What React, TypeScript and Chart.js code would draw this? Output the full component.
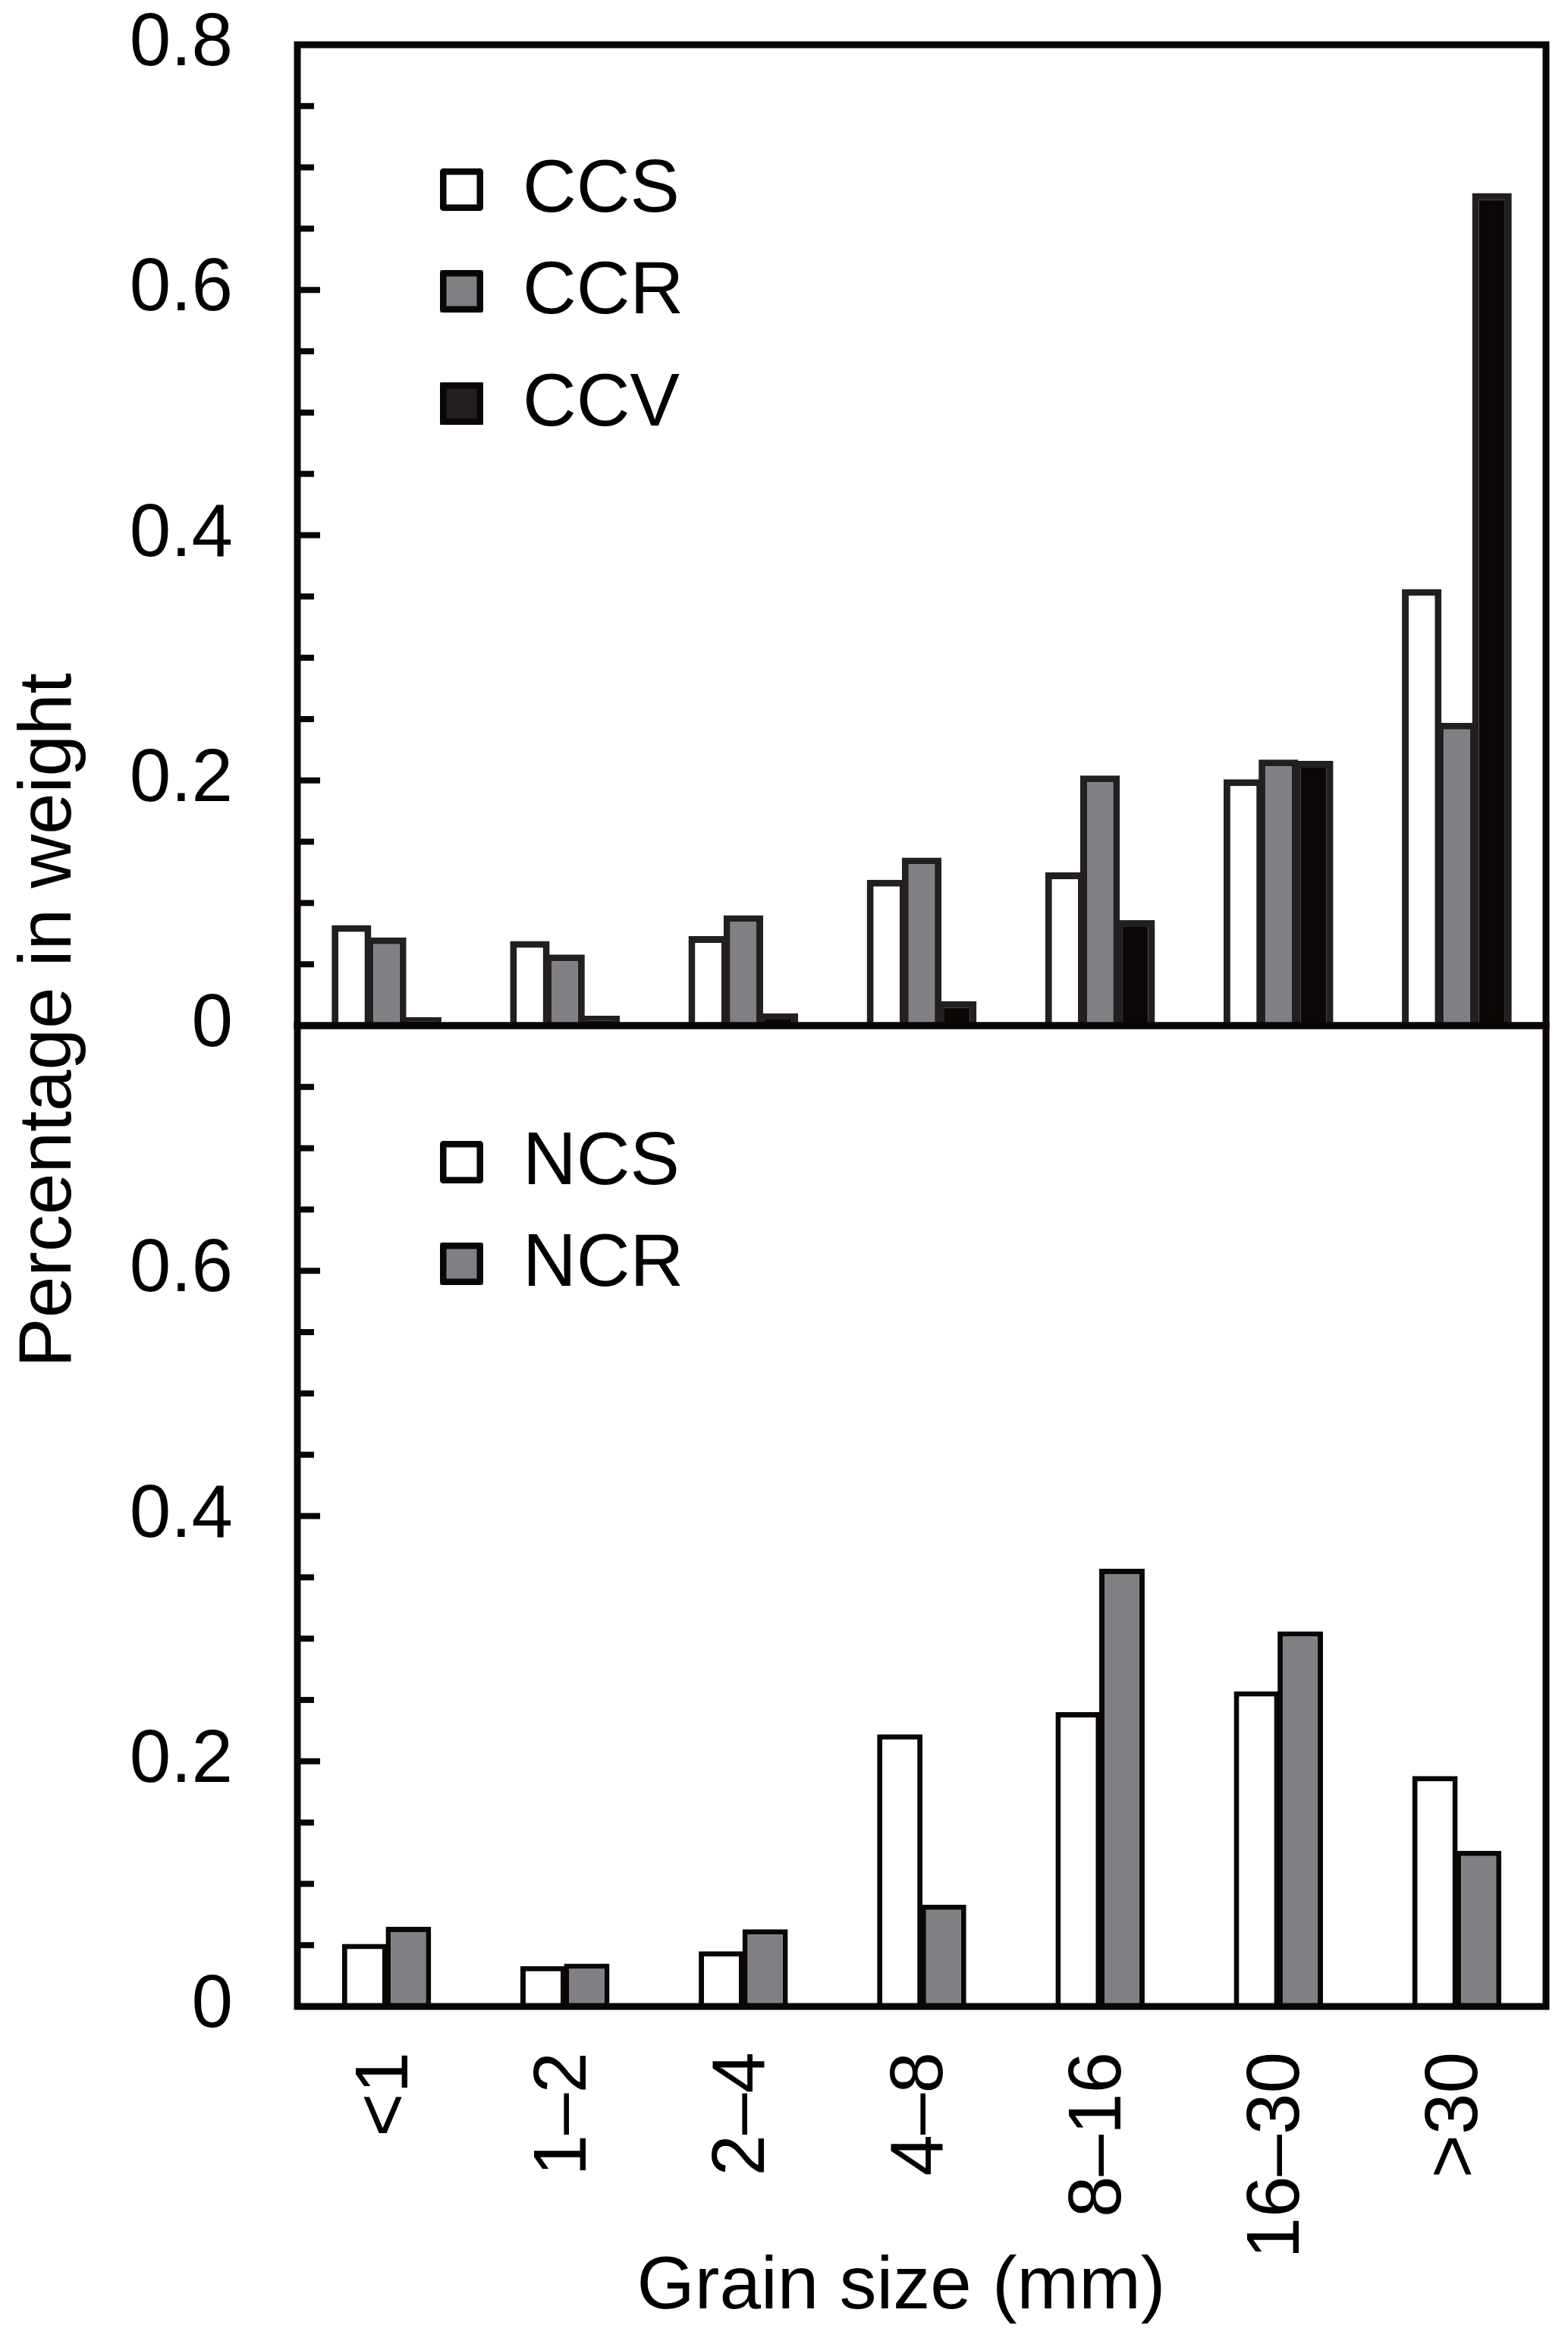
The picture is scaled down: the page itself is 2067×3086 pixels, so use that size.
import React, { useEffect, useRef } from 'react';
import { Chart, registerables } from 'chart.js';

Chart.register(...registerables);

// ---- data ----
const categories = ['<1', '1–2', '2–4', '4–8', '8–16', '16–30', '>30'];
const ccsValues = [0.082, 0.069, 0.073, 0.119, 0.125, 0.201, 0.356];
const ccrValues = [0.072, 0.058, 0.090, 0.137, 0.204, 0.217, 0.247];
const ccvValues = [0.007, 0.008, 0.010, 0.020, 0.086, 0.216, 0.679];
const ncsValues = [0.051, 0.033, 0.045, 0.222, 0.240, 0.257, 0.188];
const ncrValues = [0.065, 0.035, 0.063, 0.083, 0.357, 0.306, 0.127];
const topTickLabels = [0, 0.2, 0.4, 0.6, 0.8];
const bottomTickLabels = [0, 0.2, 0.4, 0.6];
const xTitle = 'Grain size (mm)';
const yTitle = 'Percentage in weight';

// ---- layout / style ----
const W = 2067;
const H = 3086;
const PLOT_LEFT = 392;
const PLOT_RIGHT = 2038;
const PLOT_TOP = 59;
const PLOT_MID = 1352;
const PLOT_BOTTOM = 2645;
const FONT = '"Liberation Sans", Arial, Helvetica, sans-serif';
const FS = 98;
const INK = '#0a0605';

const fmt = (v: number) => (Math.abs(v) < 1e-9 ? '0' : v.toFixed(1));
const makeCallback = (list: number[]) => (value: any) => {
  const v = Number(value);
  const hit = list.find((t) => Math.abs(t - v) < 1e-6);
  return hit === undefined ? '' : fmt(hit);
};

const yAxis = (labels: number[]) => ({
  type: 'linear',
  position: 'left',
  min: 0,
  max: 0.8,
  grid: { display: false, drawTicks: false },
  border: { display: false },
  ticks: {
    stepSize: 0.05,
    autoSkip: false,
    padding: 85,
    color: '#000',
    font: { family: FONT, size: FS, lineHeight: 1 },
    callback: makeCallback(labels),
  },
  afterFit: (s: any) => {
    s.width = PLOT_LEFT;
    s.paddingTop = 0;
    s.paddingBottom = 0;
  },
});

const panelPlugin = (rows: number[], withTitles: boolean) => ({
  id: 'panel',
  afterDatasetsDraw(chart: any) {
    const { ctx, chartArea } = chart;
    const sc = chart.scales.y;
    ctx.save();
    ctx.strokeStyle = INK;
    ctx.lineCap = 'butt';
    ctx.lineWidth = 8;
    sc.ticks.forEach((t: any) => {
      const v = t.value;
      if (v < 1e-6 || v > 0.8 - 1e-6) return;
      const major = Math.abs(v * 5 - Math.round(v * 5)) < 1e-6;
      const y = sc.getPixelForValue(v);
      ctx.beginPath();
      ctx.moveTo(chartArea.left, y);
      ctx.lineTo(chartArea.left + (major ? 30 : 22), y);
      ctx.stroke();
    });
    ctx.lineWidth = 9;
    ctx.lineJoin = 'miter';
    ctx.strokeRect(chartArea.left, chartArea.top, chartArea.right - chartArea.left, chartArea.bottom - chartArea.top);
    ctx.restore();
  },
  afterDraw(chart: any) {
    const { ctx, chartArea } = chart;
    const ds = chart.data.datasets;
    ctx.save();
    ctx.font = `${FS}px ${FONT}`;
    const boxX = chartArea.left + 188;
    ds.forEach((d: any, i: number) => {
      const cy = chartArea.top + rows[i];
      ctx.fillStyle = d.legendFill || d.backgroundColor;
      ctx.fillRect(boxX, cy - 28, 57, 56);
      ctx.lineWidth = 8.5;
      ctx.strokeStyle = INK;
      ctx.lineJoin = 'round';
      ctx.strokeRect(boxX + 4.25, cy - 28 + 4.25, 57 - 8.5, 56 - 8.5);
      ctx.fillStyle = '#000';
      ctx.textAlign = 'left';
      ctx.textBaseline = 'middle';
      ctx.fillText(d.label, boxX + 109, cy + 2);
    });
    if (withTitles) {
      ctx.fillStyle = '#000';
      ctx.textAlign = 'center';
      ctx.textBaseline = 'alphabetic';
      ctx.fillText(xTitle, (chartArea.left + chartArea.right) / 2 - 27, H - 43);
      ctx.translate(93, (PLOT_TOP + PLOT_BOTTOM) / 2 - 7);
      ctx.rotate(-Math.PI / 2);
      ctx.fillText(yTitle, 0, 0);
    }
    ctx.restore();
  },
});

export default function App() {
  const topRef = useRef<HTMLCanvasElement | null>(null);
  const botRef = useRef<HTMLCanvasElement | null>(null);
  useEffect(() => {
    if (!topRef.current || !botRef.current) return;
    const topBar = { borderColor: '#231f20', borderWidth: 9, categoryPercentage: 0.59, barPercentage: 1.13 };
    const botBar = { borderColor: INK, borderWidth: 7, categoryPercentage: 0.49, barPercentage: 1.04 };
    const common = {
      responsive: false,
      animation: false,
      devicePixelRatio: 1,
      plugins: { legend: { display: false }, tooltip: { enabled: false } },
    };
    const top = new Chart(topRef.current, {
      type: 'bar',
      data: {
        labels: categories,
        datasets: [
          { label: 'CCS', data: ccsValues, backgroundColor: '#ffffff', ...topBar },
          { label: 'CCR', data: ccrValues, backgroundColor: '#807f84', ...topBar },
          { label: 'CCV', data: ccvValues, backgroundColor: '#0b0706', legendFill: '#231f20', ...topBar },
        ] as any,
      },
      options: {
        ...common,
        layout: { padding: { top: PLOT_TOP, right: W - PLOT_RIGHT, left: 0, bottom: H - PLOT_MID } },
        scales: {
          x: { type: 'category', offset: true, display: false },
          y: yAxis(topTickLabels),
        } as any,
      } as any,
      plugins: [panelPlugin([191, 325, 473], false)],
    });
    const bottom = new Chart(botRef.current, {
      type: 'bar',
      data: {
        labels: categories,
        datasets: [
          { label: 'NCS', data: ncsValues, backgroundColor: '#ffffff', ...botBar },
          { label: 'NCR', data: ncrValues, backgroundColor: '#807f84', ...botBar },
        ] as any,
      },
      options: {
        ...common,
        layout: { padding: { top: PLOT_MID, right: W - PLOT_RIGHT, left: 0, bottom: 0 } },
        scales: {
          x: {
            type: 'category',
            position: 'bottom',
            offset: true,
            grid: { display: false, drawTicks: false },
            border: { display: false },
            ticks: {
              minRotation: 90,
              maxRotation: 90,
              autoSkip: false,
              padding: 60,
              color: '#000',
              font: { family: FONT, size: FS, lineHeight: 1 },
            },
            afterFit: (s: any) => {
              s.height = H - PLOT_BOTTOM;
              s.paddingLeft = 0;
              s.paddingRight = 0;
            },
          },
          y: yAxis(bottomTickLabels),
        } as any,
      } as any,
      plugins: [panelPlugin([180, 314], true)],
    });
    return () => {
      top.destroy();
      bottom.destroy();
    };
  }, []);
  const cv: React.CSSProperties = { position: 'absolute', left: 0, top: 0, width: W, height: H, display: 'block' };
  return (
    <div style={{ position: 'absolute', left: 0, top: 0, width: W, height: H, background: '#fff', overflow: 'hidden' }}>
      <canvas ref={topRef} width={W} height={H} style={cv} />
      <canvas ref={botRef} width={W} height={H} style={cv} />
    </div>
  );
}
